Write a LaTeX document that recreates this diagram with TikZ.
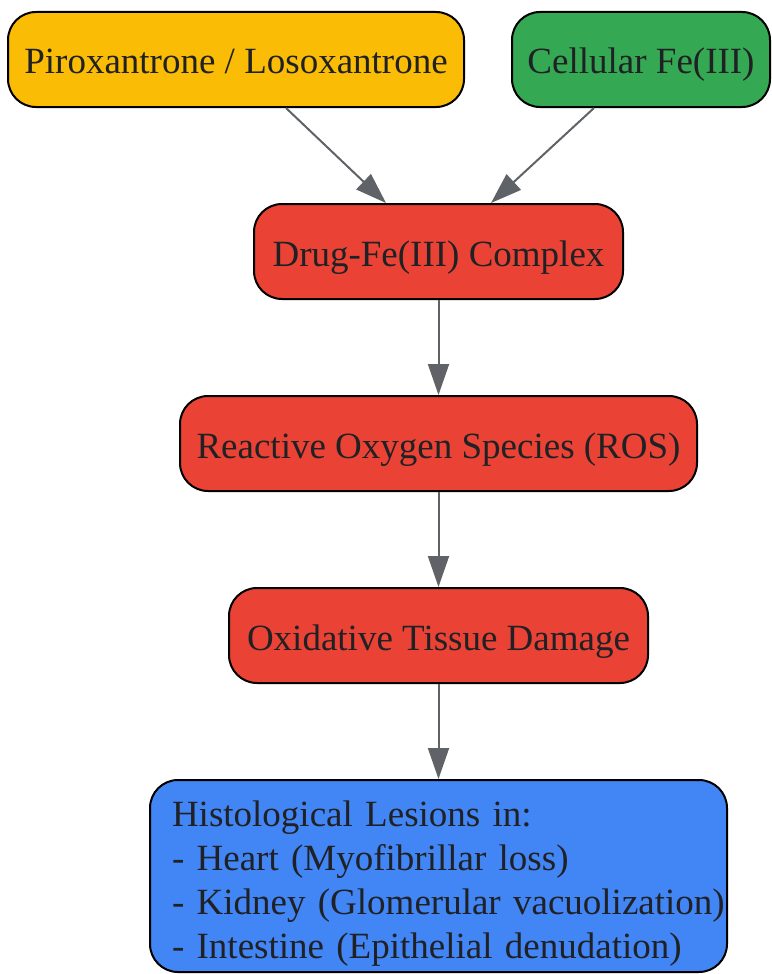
\documentclass[tikz,border=0pt]{standalone}
\usepackage{fontspec}
\setmainfont{Liberation Serif}
\usetikzlibrary{arrows.meta}
\definecolor{yellowC}{HTML}{FBBC05}
\definecolor{greenC}{HTML}{34A853}
\definecolor{redC}{HTML}{EA4335}
\definecolor{blueC}{HTML}{4285F4}
\definecolor{textC}{HTML}{202124}
\definecolor{edgeC}{HTML}{5F6368}
\begin{document}
\begin{tikzpicture}[x=1pt,y=-1pt,
  box/.style={draw=black, line width=2pt, rounded corners=28pt, text=textC,
    font=\fontsize{37}{44}\selectfont, inner sep=0pt, minimum height=95pt},
  one/.style={text height=29pt, text depth=0pt},
  arr/.style={draw=edgeC, line width=2pt, -{Triangle[length=31pt,width=21pt]}}]
\useasboundingbox (0,0) rectangle (771,974);
\node[box, one, fill=yellowC, minimum width=456pt] (pir) at (236,59.5) {Piroxantrone / Losoxantrone};
\node[box, one, fill=greenC, minimum width=258pt] (fe) at (641,59.5) {Cellular Fe(III)};
\node[box, one, fill=redC, minimum width=369pt] (drug) at (438.5,251.5) {Drug-Fe(III) Complex};
\node[box, one, fill=redC, minimum width=517pt] (ros) at (438.5,443.5) {Reactive Oxygen Species (ROS)};
\node[box, one, fill=redC, minimum width=419pt] (ox) at (438.5,635.5) {Oxidative Tissue Damage};
\node[box, fill=blueC, minimum width=577pt, minimum height=192pt, align=left,
  inner xsep=22pt, text width=533pt] (hist) at (438.5,876)
  {\rule{0pt}{40pt}\mbox{Histological Lesions in:}\\\mbox{- Heart (Myofibrillar loss)}\\\mbox{- Kidney (Glomerular vacuolization)}\\\mbox{- Intestine (Epithelial denudation)}};
\draw[arr] ([xshift=50pt]pir.south) -- ([xshift=-52.5pt]drug.north);
\draw[arr] ([xshift=-47pt]fe.south) -- ([xshift=52.5pt]drug.north);
\draw[arr] (drug) -- (ros);
\draw[arr] (ros) -- (ox);
\draw[arr] (ox) -- (hist);
\end{tikzpicture}
\end{document}
